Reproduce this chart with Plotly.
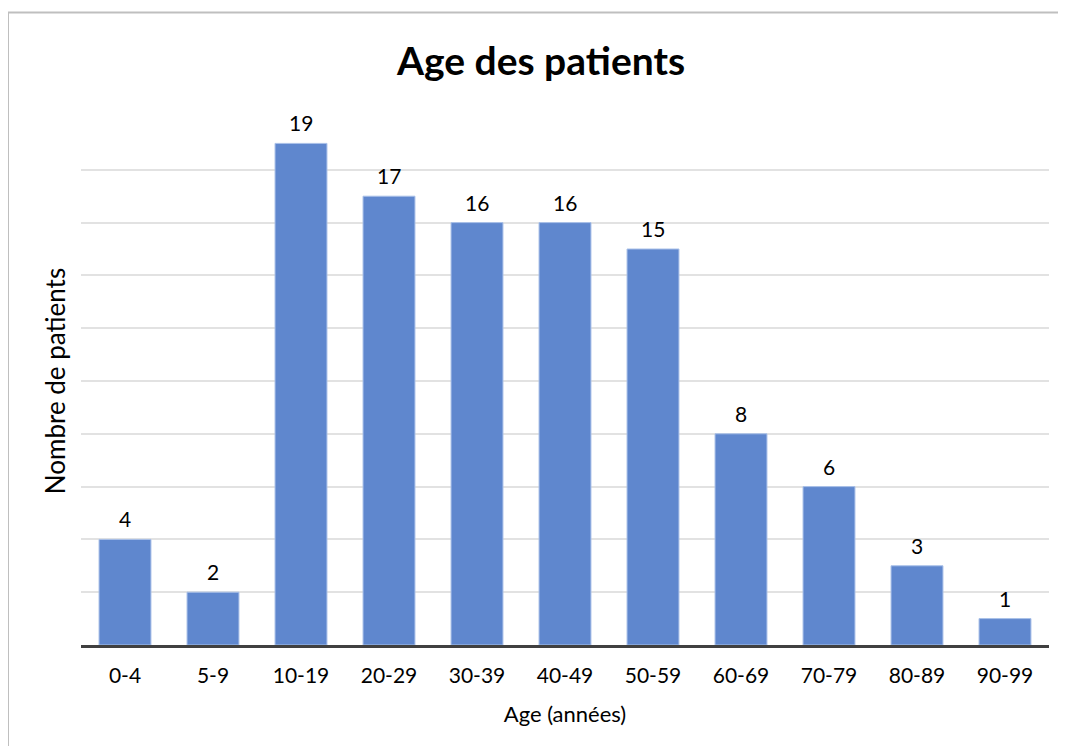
import plotly.graph_objects as go

# Age groups and patient counts
age_groups = ["0-4", "5-9", "10-19", "20-29", "30-39", "40-49",
              "50-59", "60-69", "70-79", "80-89", "90-99"]
patients = [4, 2, 19, 17, 16, 16, 15, 8, 6, 3, 1]

FONT = "Lato, 'Liberation Sans', sans-serif"

# the page body has an 8px margin, so the figure is sized to fit inside it
W, H = 1050, 738
L, R, T, B = 73, 9, 109, 101
plot_w = W - L - R
plot_h = H - T - B

fig = go.Figure()

fig.add_trace(go.Bar(
    x=age_groups,
    y=patients,
    marker=dict(color="#5F87CE", line=dict(color="#A9C0E8", width=1)),
    width=0.59,
    hoverinfo="x+y",
))

# value labels above each bar
for cat, val in zip(age_groups, patients):
    fig.add_annotation(
        x=cat, y=val, text=str(val), showarrow=False,
        yanchor="bottom", yshift=6,
        font=dict(family=FONT, size=21, color="#000000"),
    )

# chart frame: only its left and top edges fall inside the picture
frame_left = -L / plot_w
frame_top = 1 + (T - 4.5) / plot_h
border = dict(color="#BFBFBF", width=2)

fig.update_layout(
    width=W,
    height=H,
    margin=dict(l=L, r=R, t=T, b=B),
    paper_bgcolor="white",
    plot_bgcolor="white",
    showlegend=False,
    title=dict(
        text="<b>Age des patients</b>",
        x=533 / W, xanchor="center",
        y=1 - 53 / H, yanchor="middle",
        font=dict(family=FONT, size=39, color="#000000"),
    ),
    xaxis=dict(
        showline=True, linecolor="#404040", linewidth=3,
        ticks="outside", ticklen=10, tickcolor="rgba(0,0,0,0)",
        showgrid=False,
        tickfont=dict(family=FONT, size=21, color="#000000"),
        title=dict(text="Age (années)", standoff=21,
                   font=dict(family=FONT, size=22, color="#000000")),
    ),
    yaxis=dict(
        range=[0, 20], dtick=2,
        showticklabels=False, ticks="",
        showgrid=True, gridcolor="#E2E2E2", gridwidth=1.5,
        zeroline=False, showline=False,
        title=dict(text="Nombre de patients", standoff=6,
                   font=dict(family=FONT, size=26, color="#000000")),
    ),
    shapes=[
        dict(type="line", xref="paper", yref="paper",
             x0=frame_left, x1=frame_left, y0=-B / plot_h, y1=frame_top,
             line=border, layer="below"),
        dict(type="line", xref="paper", yref="paper",
             x0=frame_left, x1=1 + R / plot_w, y0=frame_top, y1=frame_top,
             line=border, layer="below"),
    ],
)

fig.write_html("out.html")
